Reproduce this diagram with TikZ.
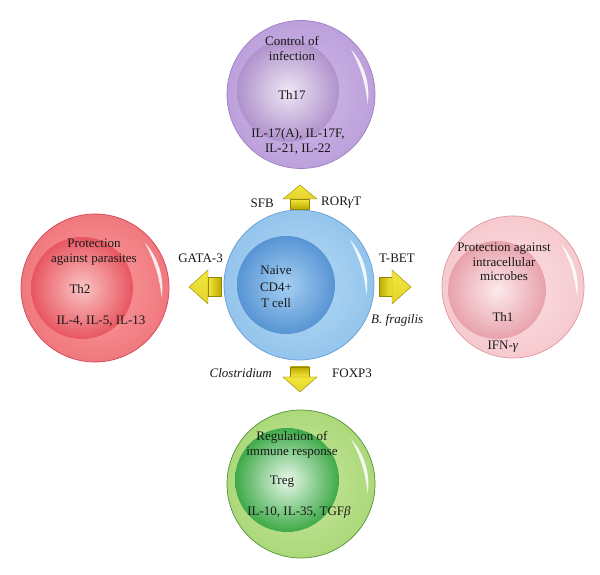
\documentclass[tikz,border=0pt]{standalone}
\usepackage{fontspec}
\setmainfont{Liberation Serif}
\usetikzlibrary{calc}
% colours
\definecolor{purOl}{RGB}{210,188,233}\definecolor{purOd}{RGB}{188,160,219}\definecolor{purB}{RGB}{160,128,196}
\definecolor{purIl}{RGB}{238,230,244}\definecolor{purId}{RGB}{176,146,204}
\definecolor{bluOl}{RGB}{182,220,245}\definecolor{bluOd}{RGB}{148,196,236}\definecolor{bluB}{RGB}{100,160,215}
\definecolor{bluIl}{RGB}{165,208,242}\definecolor{bluId}{RGB}{88,148,212}
\definecolor{redOl}{RGB}{250,160,160}\definecolor{redOd}{RGB}{240,120,126}\definecolor{redB}{RGB}{210,70,80}
\definecolor{redIl}{RGB}{250,196,196}\definecolor{redId}{RGB}{232,86,96}
\definecolor{pnkOl}{RGB}{251,224,226}\definecolor{pnkOd}{RGB}{246,202,207}\definecolor{pnkB}{RGB}{225,150,160}
\definecolor{pnkIl}{RGB}{252,234,236}\definecolor{pnkId}{RGB}{232,162,172}
\definecolor{grnOl}{RGB}{200,232,158}\definecolor{grnOd}{RGB}{172,216,122}\definecolor{grnB}{RGB}{80,150,55}
\definecolor{grnIl}{RGB}{232,248,232}\definecolor{grnId}{RGB}{62,170,72}
\definecolor{arrL}{RGB}{242,230,60}\definecolor{arrD}{RGB}{190,170,0}\definecolor{arrE}{RGB}{150,135,0}
\definecolor{txt}{RGB}{25,25,25}
% cell: name, cx, cy, R, ix, iy, r, colour prefix
\newcommand\drawcell[8]{%
  \coordinate (#1) at (#2,#3);
  \coordinate (#1in) at (#5,#6);
  \shade[inner color=#8Ol, outer color=#8Od] (#1) circle[radius=#4];
  \draw[draw=#8B, line width=0.7pt] (#1) circle[radius=#4];
  \shade[inner color=#8Il, outer color=#8Id] (#1in) circle[radius=#7];
  \path ($(#1)+(42:{0.91*#4})$) coordinate (#1hs);
  \fill[white, opacity=0.85] (#1hs) arc[start angle=42, end angle=-8, radius={0.91*#4}] to[bend right=10] (#1hs) -- cycle;
}
% block arrow: position, rotation, shaft length, head length, shaft shading
\newcommand\blockarrow[5]{%
  \begin{scope}[shift={#1}, rotate=#2]
    \shade[#5, draw=arrE, line width=0.4pt] (0,-9.5) -- (#3,-9.5) -- (#3,9.5) -- (0,9.5) -- cycle;
    \shade[top color=arrL, bottom color=arrL!70!arrD, draw=arrE, line width=0.4pt]
      (#3,-17) -- ({#3+#4},0) -- (#3,17) -- cycle;
  \end{scope}
}
\begin{document}
\begin{tikzpicture}[x=1pt, y=1pt,
  every node/.style={font=\fontsize{13}{14.5}\selectfont, text=txt, align=center, inner sep=0pt},
  lbl/.style={font=\fontsize{13}{14.5}\selectfont},
  ilbl/.style={font=\fontsize{13}{14.5}\selectfont\itshape}]
\useasboundingbox (0,0) rectangle (600,575);
\fill[white] (0,0) rectangle (600,575);

% cells
\drawcell{th17}{301}{480.5}{74}{288}{484}{51}{pur}
\drawcell{naive}{299}{290}{75}{286}{290}{49}{blu}
\drawcell{th2}{95}{287}{74}{82}{287}{51}{red}
\drawcell{th1}{513}{288}{71}{497}{285}{49}{pnk}
\drawcell{treg}{301}{91}{74}{287}{95}{52}{grn}

% arrows
\blockarrow{(300,366)}{90}{10}{14}{top color=arrL, bottom color=arrD}
\blockarrow{(300,208)}{-90}{10}{15}{top color=arrD, bottom color=arrL}
\blockarrow{(221,288)}{180}{13}{19}{left color=arrL, right color=arrD}
\blockarrow{(379,288)}{0}{13}{19}{left color=arrD, right color=arrL}

% Th17 texts
\node (t17a) at (292,526.5) {Control of\\infection};
\node (t17b) at (292,480) {Th17};
\node (t17c) at (298,433.5) {IL-17(A), IL-17F,\\IL-21, IL-22};
% Naive
\node[font=\fontsize{13}{16.5}\selectfont] (tn) at (276,288) {Naive\\CD4+\\T cell};
% Th2
\node[font=\fontsize{13}{15.5}\selectfont] (t2a) at (94,323) {Protection\\against parasites};
\node (t2b) at (80,286) {Th2};
\node (t2c) at (101,254) {IL-4, IL-5, IL-13};
% Th1
\node (t1a) at (504,313) {Protection against\\intracellular\\microbes};
\node (t1b) at (503,258) {Th1};
\node (t1c) at (503,228) {IFN-\textit{γ}};
% Treg
\node[font=\fontsize{13}{15}\selectfont] (tra) at (292,130.5) {Regulation of\\immune response};
\node (trb) at (282,93) {Treg};
\node (trc) at (299,63) {IL-10, IL-35, TGF\textit{β}};

% labels
\node[lbl, anchor=east] (sfb) at (274,372) {SFB};
\node[lbl, anchor=west] (ror) at (321,372) {ROR\textit{γ}T};
\node[lbl, anchor=east] (gata) at (223,317) {GATA-3};
\node[lbl, anchor=west] (tbet) at (379,317) {T-BET};
\node[ilbl, anchor=west] (bfr) at (371,255) {B. fragilis};
\node[ilbl, anchor=east] (clo) at (272,202) {Clostridium};
\node[lbl, anchor=west] (fox) at (332,202) {FOXP3};
\end{tikzpicture}
\end{document}
